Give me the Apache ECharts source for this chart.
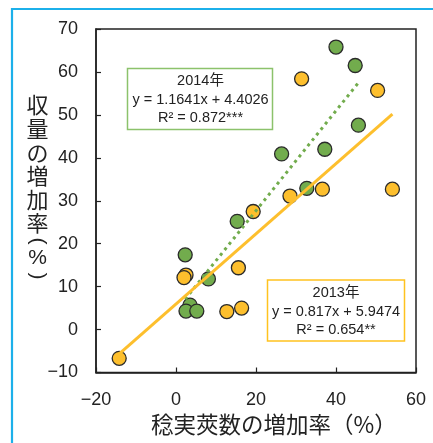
<!DOCTYPE html>
<html>
<head>
<meta charset="utf-8">
<script src="https://cdn.jsdelivr.net/npm/echarts@6/dist/echarts.min.js"></script>
<style>
  html, body { margin: 0; padding: 0; background: #fff; }
  #chart { width: 433px; height: 443px; }
</style>
</head>
<body>
<div id="chart"></div>
<script>
// Pod-number increase (x, %) vs. yield increase (y, %), two seasons
const x2014 = [40.0, 44.8, 45.6, 26.4, 37.2, 32.7, 15.3, 2.3, 8.1, 3.5, 2.5, 5.2];
const y2014 = [65.8, 61.5, 47.6, 40.9, 42.0, 32.9, 25.2, 17.4, 11.8, 5.7, 4.3, 4.3];
const x2013 = [31.4, 50.4, 28.5, 36.6, 54.1, 19.3, 15.6, 2.5, 2.0, 12.7, 16.4, -14.2];
const y2013 = [58.4, 55.7, 31.1, 32.7, 32.7, 27.5, 14.4, 12.7, 12.1, 4.2, 5.0, -6.7];

// Regression results for each season
const fit2014 = { slope: 1.1641, intercept: 4.4026, r2: '0.872***' };
const fit2013 = { slope: 0.817, intercept: 5.9474, r2: '0.654**' };

const xTicks = { min: -20, max: 60, interval: 20 };
const yTicks = { min: -10, max: 70, interval: 10 };

const GREEN = '#72AC4D';
const ORANGE = '#FDBF2D';
const CJK = '"Noto Sans CJK JP", sans-serif';
const LATIN = '"Liberation Sans", Arial, sans-serif';

function pairs(xs, ys) { return xs.map((v, i) => [v, ys[i]]); }
function fitLine(xs, fit) {
  const lo = Math.min(...xs), hi = Math.max(...xs);
  return [[lo, fit.slope * lo + fit.intercept], [hi, fit.slope * hi + fit.intercept]];
}
const minus = v => String(v).replace('-', '\u2212');

const chart = echarts.init(document.getElementById('chart'), null, { renderer: 'canvas' });

// Vertical y-axis title, one glyph per position
const yTitle = [
  ['収', 105], ['量', 128.6], ['の', 152.2], ['増', 175.8], ['加', 199.4], ['率', 223]
];
const yTitleEls = yTitle.map(([ch, cy]) => ({
  type: 'text', x: 37.5, y: cy, z: 10,
  style: { text: ch, font: '22px ' + CJK, fill: '#222', align: 'center', verticalAlign: 'middle' }
}));
yTitleEls.push(
  { type: 'text', x: 37.5, y: 241, rotation: -Math.PI / 2, z: 10,
    style: { text: '(', font: '21px ' + LATIN, fill: '#222', align: 'center', verticalAlign: 'middle' } },
  { type: 'text', x: 37.5, y: 258.5, z: 10,
    style: { text: '%', font: '21px ' + LATIN, fill: '#222', align: 'center', verticalAlign: 'middle' } },
  { type: 'text', x: 37.5, y: 276, rotation: -Math.PI / 2, z: 10,
    style: { text: ')', font: '21px ' + LATIN, fill: '#222', align: 'center', verticalAlign: 'middle' } }
);

function statBox(left, top, w, h, color, cx, lines) {
  const els = [{
    type: 'rect', shape: { x: left, y: top, width: w, height: h }, z: 20,
    style: { fill: '#fff', stroke: color, lineWidth: 1.5 }
  }];
  lines.forEach(([t, cy]) => els.push({
    type: 'text', x: cx, y: cy, z: 21,
    style: { text: t, font: '14.5px ' + LATIN + ', ' + CJK, fill: '#222', align: 'center', verticalAlign: 'middle' }
  }));
  return els;
}

const box2014 = statBox(127.5, 68.5, 145, 61, '#8CC26B', 200.5, [
  ['2014年', 81],
  ['y = ' + fit2014.slope + 'x + ' + fit2014.intercept, 99.5],
  ['R² = ' + fit2014.r2, 118]
]);
const box2013 = statBox(267.5, 280, 137, 61, '#FFC21F', 336, [
  ['2013年', 293],
  ['y = ' + fit2013.slope + 'x + ' + fit2013.intercept, 311.5],
  ['R² = ' + fit2013.r2, 330]
]);

chart.setOption({
  animation: false,
  backgroundColor: '#fff',
  grid: {
    left: 96, right: 17, top: 29, bottom: 70.5,
    show: true, borderColor: '#222', borderWidth: 1.5, backgroundColor: 'transparent'
  },
  xAxis: {
    type: 'value', min: xTicks.min, max: xTicks.max, interval: xTicks.interval,
    splitLine: { show: false },
    axisLine: { show: true, onZero: false, lineStyle: { color: '#222', width: 1.5 } },
    axisTick: { show: true, inside: true, length: 5, lineStyle: { color: '#222', width: 1.2 } },
    axisLabel: { margin: 19, color: '#222', fontSize: 18, fontFamily: LATIN, formatter: minus }
  },
  yAxis: {
    type: 'value', min: yTicks.min, max: yTicks.max, interval: yTicks.interval,
    splitLine: { show: false },
    axisLine: { show: true, onZero: false, lineStyle: { color: '#222', width: 1.5 } },
    axisTick: { show: true, inside: true, length: 5, lineStyle: { color: '#222', width: 1.2 } },
    axisLabel: { margin: 18, color: '#222', fontSize: 18, fontFamily: LATIN, formatter: minus }
  },
  series: [
    {
      name: '2014年', type: 'scatter', z: 2, data: pairs(x2014, y2014),
      symbolSize: 14,
      itemStyle: { color: GREEN, borderColor: '#2a2a2a', borderWidth: 1.3, opacity: 1 }
    },
    {
      name: '2013年', type: 'scatter', z: 3, data: pairs(x2013, y2013),
      symbolSize: 14,
      itemStyle: { color: ORANGE, borderColor: '#2a2a2a', borderWidth: 1.3, opacity: 1 }
    },
    {
      name: '2014年 回帰', type: 'line', z: 4, data: fitLine(x2014, fit2014),
      symbol: 'none', silent: true,
      lineStyle: { color: GREEN, width: 3, type: [3, 4], cap: 'butt' }
    },
    {
      name: '2013年 回帰', type: 'line', z: 5, data: fitLine(x2013, fit2013),
      symbol: 'none', silent: true,
      lineStyle: { color: ORANGE, width: 3 }
    }
  ],
  graphic: [
    // outer frame
    { type: 'polyline', z: 30, shape: { points: [[12, 443], [12, 9], [433, 9]] },
      style: { stroke: '#1CB0EA', lineWidth: 2.2, fill: null } },
    ...yTitleEls,
    { type: 'text', x: 151, y: 424, z: 10,
      style: { text: '稔実莢数の増加率（%）', font: '22.5px ' + CJK, fill: '#222', align: 'left', verticalAlign: 'middle' } },
    ...box2014,
    ...box2013
  ]
});
</script>
</body>
</html>
